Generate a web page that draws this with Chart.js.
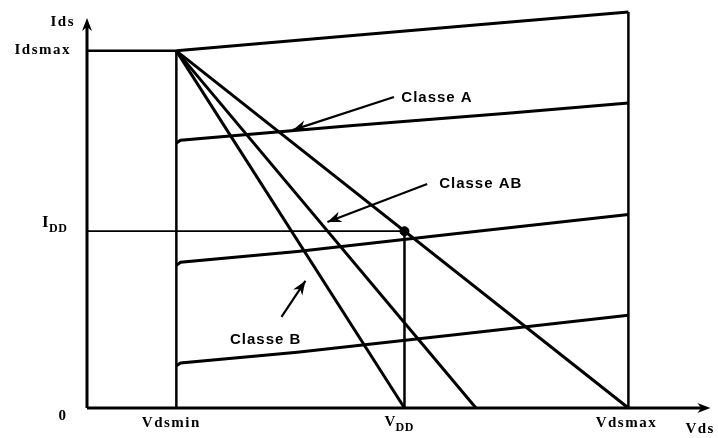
<!DOCTYPE html>
<html>
<head>
<meta charset="utf-8">
<script src="https://cdn.jsdelivr.net/npm/chart.js@4.4.1/dist/chart.umd.min.js"></script>
<style>
  html, body { margin: 0; padding: 0; background: #fff; }
  #wrap { width: 718px; height: 438px; }
</style>
</head>
<body>
<div id="wrap"><canvas id="c" width="718" height="438"></canvas></div>
<script>
// ---- key values (normalized units) ----
const vdsMin = 0.85;
const vdd = 3.02;
const vdsMax = 5.15;
const vdsAxisEnd = 5.93;
const idsMax = 1.0;
const idd = 0.495;
const idsAxisEnd = 1.092;
const abEnd = 3.70;

// load lines
const loadA = [[vdsMin, idsMax], [vdsMax, 0]];
const loadAB = [[vdsMin, idsMax], [abEnd, 0]];
const loadB = [[vdsMin, idsMax], [vdd, 0]];

// transistor output characteristics
const curveTop = [[vdsMin, 1.0], [2.5, 1.042], [4.0, 1.080], [vdsMax, 1.109]];
const curveHigh = [[vdsMin, 0.742], [vdsMin + 0.04, 0.750], [2.5, 0.790], [4.0, 0.825], [vdsMax, 0.854]];
const curveMid = [[vdsMin, 0.400], [vdsMin + 0.04, 0.408], [2.0, 0.438], [3.5, 0.488], [vdsMax, 0.542]];
const curveLow = [[vdsMin, 0.118], [vdsMin + 0.04, 0.126], [2.0, 0.156], [3.5, 0.205], [vdsMax, 0.260]];

// reference lines
const vMinLine = [[vdsMin, 0], [vdsMin, idsMax]];
const vMaxLine = [[vdsMax, 0], [vdsMax, 1.109]];
const vddLine = [[vdd, 0], [vdd, idd]];
const idsMaxLine = [[0, idsMax], [vdsMin, idsMax]];
const iddLine = [[0, idd], [vdd, idd]];
const xAxisLine = [[0, 0], [vdsAxisEnd - 0.05, 0]];
const yAxisLine = [[0, 0], [0, idsAxisEnd - 0.02]];

// annotations: label text, label anchor, arrow from, arrow to
const classLabels = ['Classe A', 'Classe AB', 'Classe B'];
const labelPos = [[2.99, 0.868], [3.35, 0.627], [1.36, 0.190]];
const arrowFrom = [[2.92, 0.871], [3.236, 0.627], [1.85, 0.255]];
const arrowTo = [[1.955, 0.778], [2.287, 0.521], [2.078, 0.356]];

// axis tick labels
const yTickLabels = ['0', 'Idsmax', 'Ids'];
const xTickLabels = ['Vdsmin', 'Vdsmax', 'Vds'];

const pts = a => a.map(p => ({x: p[0], y: p[1]}));
function line(data, w) {
  return { data: pts(data), showLine: true, borderColor: '#000', backgroundColor: '#000',
           borderWidth: w, pointRadius: 0, pointHoverRadius: 0, clip: false, tension: 0 };
}

const datasets = [
  line(xAxisLine, 3), line(yAxisLine, 3),
  line(vMinLine, 2.5), line(vMaxLine, 2.5), line(vddLine, 2.5),
  line(idsMaxLine, 2.5), line(iddLine, 1.8),
  line(curveTop, 3), line(curveHigh, 3), line(curveMid, 3), line(curveLow, 3),
  line(loadA, 3), line(loadAB, 3), line(loadB, 3),
];
arrowFrom.forEach((f, i) => datasets.push(line([f, arrowTo[i]], 2.2)));
datasets.push({ data: pts([[vdd, idd]]), showLine: false, pointRadius: 4.5, pointBackgroundColor: '#000',
                pointBorderColor: '#000', clip: false });

function head(ctx, x1, y1, x2, y2, len, wid) {
  const ang = Math.atan2(y2 - y1, x2 - x1);
  ctx.save();
  ctx.translate(x2, y2);
  ctx.rotate(ang);
  ctx.beginPath();
  ctx.moveTo(0, 0);
  ctx.lineTo(-len, -wid);
  ctx.lineTo(-len * 0.7, 0);
  ctx.lineTo(-len, wid);
  ctx.closePath();
  ctx.fillStyle = '#000';
  ctx.fill();
  ctx.restore();
}

const decor = {
  id: 'decor',
  afterDatasetsDraw(chart) {
    const ctx = chart.ctx, xs = chart.scales.x, ys = chart.scales.y;
    const X = v => xs.getPixelForValue(v), Y = v => ys.getPixelForValue(v);
    // axis arrows
    head(ctx, X(0), Y(0), X(vdsAxisEnd), Y(0), 13, 5);
    head(ctx, X(0), Y(0), X(0), Y(idsAxisEnd), 13, 5);
    // annotation arrows
    arrowFrom.forEach((f, i) => head(ctx, X(f[0]), Y(f[1]), X(arrowTo[i][0]), Y(arrowTo[i][1]), 14, 5.5));
    // class labels
    ctx.fillStyle = '#000';
    ctx.textBaseline = 'middle';
    ctx.textAlign = 'left';
    ctx.font = 'bold 15px "Liberation Sans", Arial, sans-serif';
    ctx.letterSpacing = '1px';
    classLabels.forEach((t, i) => ctx.fillText(t, X(labelPos[i][0]), Y(labelPos[i][1])));
    // axis labels (serif bold)
    ctx.font = 'bold 15px "Liberation Serif", "Times New Roman", serif';
    ctx.letterSpacing = '1.5px';
    ctx.textAlign = 'right';
    ctx.fillText(yTickLabels[2], X(0) - 12, Y(idsAxisEnd) + 4);
    ctx.fillText(yTickLabels[1], X(0) - 16, Y(idsMax) - 1);
    ctx.textAlign = 'center';
    ctx.fillText(yTickLabels[0], X(0) - 24, Y(0) + 8);
    // I_DD
    ctx.textAlign = 'left';
    ctx.letterSpacing = '0.5px';
    ctx.font = 'bold 17px "Liberation Serif", serif';
    ctx.fillText('I', X(0) - 45, Y(idd) - 9);
    ctx.font = 'bold 12px "Liberation Serif", serif';
    ctx.fillText('DD', X(0) - 38, Y(idd) - 2);
    // x labels
    ctx.font = 'bold 15px "Liberation Serif", serif';
    ctx.letterSpacing = '1.5px';
    ctx.textAlign = 'center';
    ctx.fillText(xTickLabels[0], X(vdsMin) - 5, Y(0) + 15);
    ctx.fillText(xTickLabels[1], X(vdsMax) - 2, Y(0) + 15);
    ctx.textAlign = 'left';
    ctx.fillText(xTickLabels[2], X(vdsAxisEnd) - 25, Y(0) + 21);
    // V_DD
    ctx.letterSpacing = '0.5px';
    ctx.font = 'bold 15px "Liberation Serif", serif';
    ctx.fillText('V', X(vdd) - 20, Y(0) + 14);
    ctx.font = 'bold 12px "Liberation Serif", serif';
    ctx.fillText('DD', X(vdd) - 9, Y(0) + 20);
    ctx.letterSpacing = '0px';
  }
};

new Chart(document.getElementById('c'), {
  type: 'scatter',
  data: { datasets },
  options: {
    responsive: false,
    animation: false,
    events: [],
    layout: { padding: { left: 87, right: 4, top: 8, bottom: 30 } },
    plugins: { legend: { display: false }, tooltip: { enabled: false } },
    scales: {
      x: { type: 'linear', min: 0, max: 5.95, display: false },
      y: { type: 'linear', min: 0, max: 1.12, display: false }
    }
  },
  plugins: [decor]
});
</script>
</body>
</html>
